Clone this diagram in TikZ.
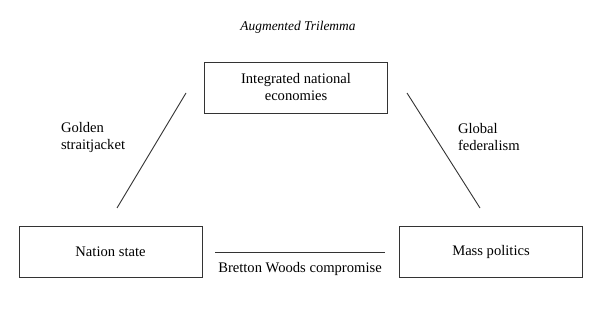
\documentclass[tikz,border=0pt]{standalone}
\usepackage{fontspec}
\setmainfont{Liberation Serif}
\begin{document}
\begin{tikzpicture}[x=1pt,y=-1pt,
  every node/.style={inner sep=0pt, outer sep=0pt, text=black},
  txt/.style={font=\fontsize{14.6}{17}\selectfont},
  boxnode/.style={draw=black!80, line width=0.9pt, minimum width=183pt, minimum height=51pt, txt, align=center},
  link/.style={draw=black!80, line width=0.9pt}]
\useasboundingbox (0,0) rectangle (600,315);
\node[font=\fontsize{13.4}{15}\selectfont\itshape] (title) at (298,27) {Augmented Trilemma};
\node[boxnode] (top) at (296,87.5) {Integrated national\\economies};
\node[boxnode] (left) at (110.5,251.5) {Nation state};
\node[boxnode] (right) at (491,251.5) {Mass politics};
\node[txt, align=left, anchor=west] (golden) at (61,137) {Golden\\straitjacket};
\node[txt, align=left, anchor=west] (global) at (458,137) {Global\\federalism};
\node[txt] (bw) at (300,269) {Bretton Woods compromise};
\coordinate (l1) at (186,93);
\coordinate (l2) at (117,208);
\coordinate (r1) at (407,93);
\coordinate (r2) at (480,208);
\coordinate (h1) at (215,252);
\coordinate (h2) at (385,252);
\draw[link] (l1) -- (l2);
\draw[link] (r1) -- (r2);
\draw[link] (h1) -- (h2);
\end{tikzpicture}
\end{document}
